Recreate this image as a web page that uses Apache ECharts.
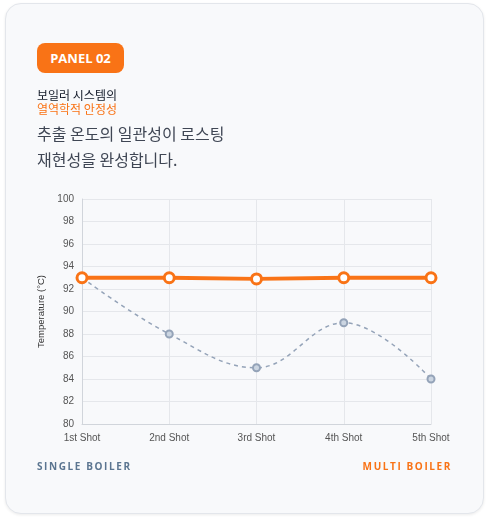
<!DOCTYPE html>
<html><head><meta charset="utf-8">
<script src="https://cdn.jsdelivr.net/npm/echarts@6/dist/echarts.min.js"></script>
<style>
html,body{margin:0;padding:0;width:488px;height:519px;background:#fff;font-family:"Noto Sans CJK KR","Noto Sans",sans-serif;overflow:hidden}
#card{position:absolute;left:5px;top:3px;width:477px;height:509px;background:#f8f9fb;border:1px solid #e3e6eb;border-radius:16px;box-shadow:0 1px 3px rgba(0,0,0,0.08)}
#chart{position:absolute;left:0;top:0;width:488px;height:519px}
.t{position:absolute;white-space:nowrap}
#badge{left:37px;top:43px;width:87px;height:30px;background:#f97316;border-radius:8px;color:#fff;font-weight:700;font-size:13px;line-height:30px;text-align:center;font-family:"Open Sans","Noto Sans",sans-serif}
</style></head><body>
<div id="card"></div>
<div id="chart"></div>
<div class="t" id="badge">PANEL 02</div>
<div class="t" style="left:37px;top:88px;font-size:12px;color:#111827;line-height:14px">보일러 시스템의</div>
<div class="t" style="left:37px;top:102px;font-size:12px;color:#f97316;line-height:14px">열역학적 안정성</div>
<div class="t" style="left:37px;top:120px;font-size:16px;color:#3f4654;line-height:26px">추출 온도의 일관성이 로스팅<br>재현성을 완성합니다.</div>
<div class="t" style="left:37px;top:459px;font-size:10px;font-weight:700;letter-spacing:1.6px;color:#5b7590;font-family:'Open Sans',sans-serif">SINGLE BOILER</div>
<div class="t" style="right:36px;top:459px;font-size:10px;font-weight:700;letter-spacing:1.6px;color:#f97316;font-family:'Open Sans',sans-serif">MULTI BOILER</div>
<script>
const categories=["1st Shot","2nd Shot","3rd Shot","4th Shot","5th Shot"];
const singleBoiler=[93,88,85,89,84];
const multiBoiler=[93,93,92.9,93,93];
const chart=echarts.init(document.getElementById('chart'));
chart.setOption({
 animation:false,
 grid:{left:82,right:57,top:199,bottom:95},
 xAxis:{type:'category',data:categories,boundaryGap:false,
  axisLine:{lineStyle:{color:'#d1d5db'}},axisTick:{show:false},
  axisLabel:{color:'#555',fontSize:10,fontFamily:'Arial',margin:9},
  splitLine:{show:true,lineStyle:{color:'#e5e7eb'}}},
 yAxis:{type:'value',min:80,max:100,interval:2,name:'Temperature (°C)',nameLocation:'middle',nameGap:33,
  nameTextStyle:{color:'#333',fontSize:9.5,fontFamily:'Arial'},
  axisLine:{show:true,lineStyle:{color:'#d1d5db'}},
  axisLabel:{color:'#555',fontSize:10,fontFamily:'Arial'},
  splitLine:{lineStyle:{color:'#e5e7eb'}}},
 series:[
  {type:'line',data:singleBoiler,smooth:0.4,symbol:'circle',symbolSize:7,
   lineStyle:{color:'#94a3b8',width:1.5,type:[4,4]},
   itemStyle:{color:'#cbd5e1',borderColor:'#94a3b8',borderWidth:2}},
  {type:'line',data:multiBoiler,symbol:'circle',symbolSize:10,
   lineStyle:{color:'#f97316',width:4},
   itemStyle:{color:'#fff',borderColor:'#f97316',borderWidth:3}}
 ]
});
</script>
</body></html>
